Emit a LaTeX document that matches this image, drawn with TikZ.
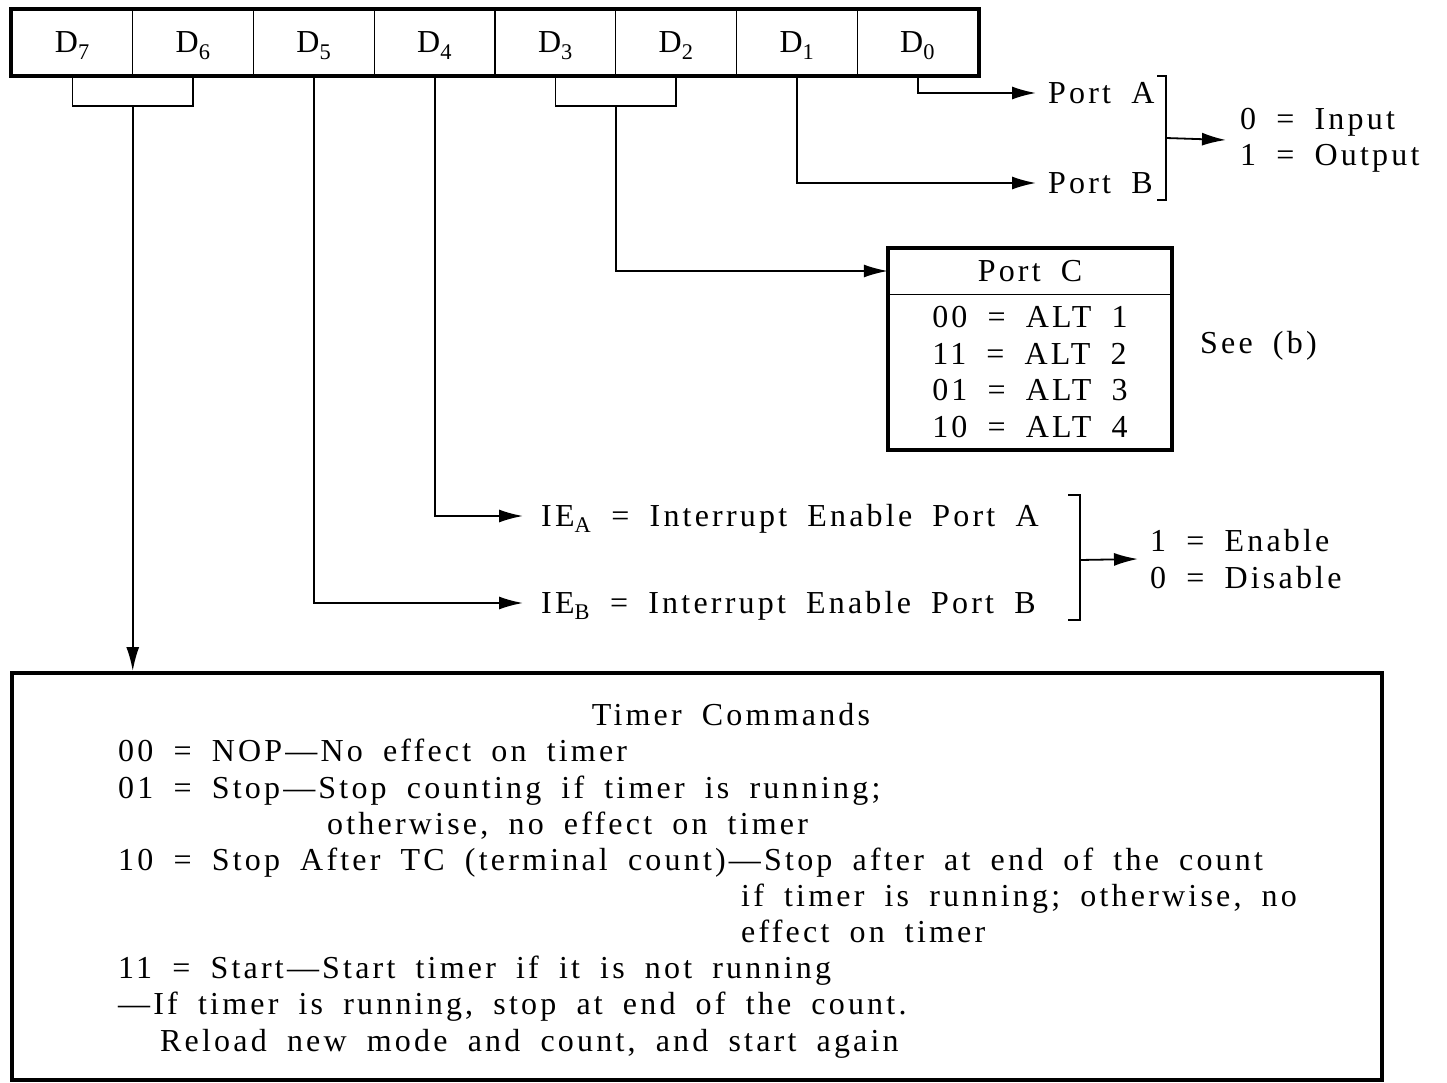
\documentclass[tikz,border=0pt]{standalone}
\usepackage{fontspec}
\setmainfont{Liberation Serif}[LetterSpace=10, WordSpace=1.8]
\usetikzlibrary{arrows.meta,calc}
\begin{document}
\begin{tikzpicture}[x=1pt,y=-1pt,
  lab/.style={font=\fontsize{32}{36.4}\selectfont, inner sep=0pt, text height=21pt, text depth=0pt},
  multi/.style={font=\fontsize{32}{36.4}\selectfont, inner sep=0pt, align=left},
  cell/.style={lab, draw, line width=1.4pt, minimum width=120.75pt, minimum height=65pt},
  conn/.style={line width=1.8pt},
  arr/.style={conn, -{Latex[length=24pt,width=13pt]}},
  frame/.style={line width=4pt},
  tt/.style={lab, anchor=west}
]
\useasboundingbox (0,0) rectangle (1447,1083);
% register
\node[cell] (d7) at (72.4,42.5) {D\textsubscript{7}};
\node[cell] (d6) at (193.1,42.5) {D\textsubscript{6}};
\node[cell] (d5) at (313.9,42.5) {D\textsubscript{5}};
\node[cell] (d4) at (434.6,42.5) {D\textsubscript{4}};
\node[cell] (d3) at (555.4,42.5) {D\textsubscript{3}};
\node[cell] (d2) at (676.1,42.5) {D\textsubscript{2}};
\node[cell] (d1) at (796.9,42.5) {D\textsubscript{1}};
\node[cell] (d0) at (917.6,42.5) {D\textsubscript{0}};
\draw[frame] (d7.north west) rectangle (d0.south east);

% labels
\node[tt] (pa) at (1048,93) {Port A};
\node[tt] (pb) at (1048,183) {Port B};
\node[multi, anchor=west] (io) at (1240,140) {0 = Input\\1 = Output};
\node[lab, minimum width=284pt, minimum height=46pt] (pch) at (1030,271) {Port C};
\node[multi, minimum width=284pt, minimum height=156pt] (pcb) at (1030,372) {00 = ALT 1\\11 = ALT 2\\01 = ALT 3\\10 = ALT 4};
\draw[line width=1.4pt] (pch.south west) -- (pch.south east);
\draw[frame] (pch.north west) rectangle (pcb.south east);
\node[tt] (seeb) at (1200,343) {See (b)};
\node[tt] (iea) at (541,516) {IE\textsubscript{A} = Interrupt Enable Port A};
\node[tt] (ieb) at (541,603) {IE\textsubscript{B} = Interrupt Enable Port B};
\node[multi, anchor=west] (en) at (1150,559) {1 = Enable\\0 = Disable};

% timer box
\node[draw, frame, minimum width=1370pt, minimum height=407pt, inner sep=0pt] (timer) at (697,876.5) {};
\node[lab] (th) at (731,715) {Timer Commands};
\node[tt] (l1) at (118,751) {00 = NOP---No effect on timer};
\node[tt] (l2) at (118,788) {01 = Stop---Stop counting if timer is running;};
\node[tt] (l3) at (327,824) {otherwise, no effect on timer};
\node[tt] (l4) at (118,860) {10 = Stop After TC (terminal count)---Stop after at end of the count};
\node[tt] (l5) at (741,896) {if timer is running; otherwise, no};
\node[tt] (l6) at (741,932) {effect on timer};
\node[tt] (l7) at (118,968) {11 = Start---Start timer if it is not running};
\node[tt] (l8) at (118,1004) {---If timer is running, stop at end of the count.};
\node[tt] (l9) at (160,1041) {Reload new mode and count, and start again};

% brackets
\coordinate (m76) at ($(d7.south)!0.5!(d6.south)+(0,30)$);
\draw[conn] (d7.south) -- ++(0,30) -| (d6.south);
\coordinate (m32) at ($(d3.south)!0.5!(d2.south)+(0,30)$);
\draw[conn] (d3.south) -- ++(0,30) -| (d2.south);
\draw[conn] (1157,76) -- (1166,76) -- (1166,200) -- (1157,200);
\coordinate (bp) at (1166,138);
\draw[conn] (1068,495) -- (1080,495) -- (1080,620) -- (1068,620);
\coordinate (bi) at (1080,560);

% connectors
\draw[arr] (m76) -- (m76 |- timer.north);
\draw[arr] (d5.south) |- ([xshift=-18pt]ieb.west);
\draw[arr] (d4.south) |- ([xshift=-18pt]iea.west);
\draw[arr] (m32) |- (pch.west);
\draw[arr] (d1.south) |- ([xshift=-12pt]pb.west);
\draw[arr] (d0.south) |- ([xshift=-12pt]pa.west);
\draw[arr] (bp) -- ([xshift=-14pt]io.west);
\draw[arr] (bi) -- ([xshift=-12pt]en.west);
\end{tikzpicture}
\end{document}
